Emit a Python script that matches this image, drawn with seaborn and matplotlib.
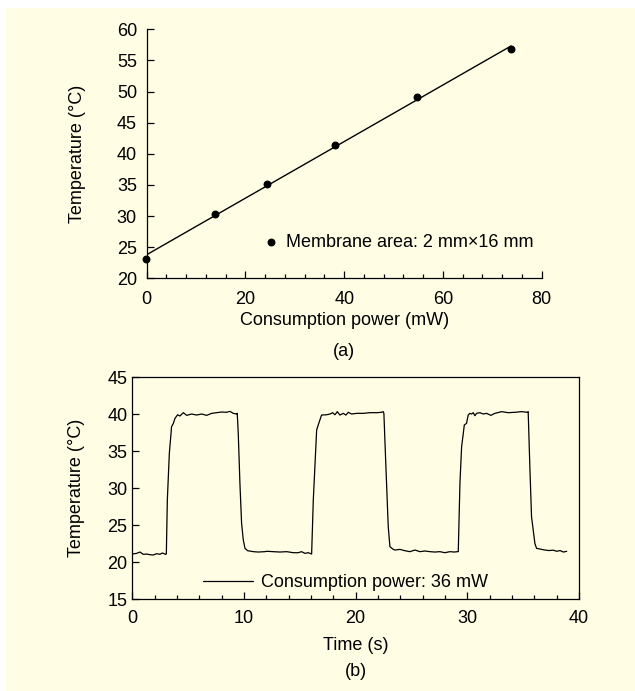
import matplotlib
matplotlib.use("Agg")
import matplotlib.pyplot as plt
from matplotlib.patches import Rectangle
from matplotlib.ticker import MultipleLocator
import pandas as pd
import seaborn as sns

# (a) temperature vs consumption power
power_mw = [-0.2, 13.9, 24.4, 38.2, 54.8, 73.8]
temp_a = [23.15, 30.33, 35.10, 41.41, 49.08, 56.79]

# (b) temperature trace vs time
time_s = [0.0, 0.39, 0.69, 0.99, 1.29, 1.58, 1.88, 2.18, 2.48, 2.69, 2.99, 3.05,
          3.14, 3.32, 3.52, 3.67, 3.82, 4.06, 4.27, 4.57, 4.87, 5.32, 5.76, 6.21,
          6.66, 7.11, 7.55, 8.0, 8.45, 8.75, 9.04, 9.34, 9.40, 9.49, 9.64, 9.79,
          9.94, 10.09, 10.33, 10.84, 11.28, 11.88, 12.03, 12.63, 13.22, 13.82,
          14.42, 14.86, 15.16, 15.46, 15.76, 16.06, 16.21, 16.51, 16.65, 16.80,
          16.95, 17.40, 17.70, 17.94, 18.15, 18.36, 18.59, 18.89, 19.13, 19.34,
          19.64, 20.09, 20.68, 21.28, 21.88, 22.32, 22.47, 22.53, 22.71, 22.92,
          23.07, 23.37, 23.52, 23.97, 24.41, 24.86, 25.31, 25.76, 26.20, 26.65,
          27.10, 27.55, 27.99, 28.44, 28.83, 29.13, 29.19, 29.34, 29.49, 29.64,
          29.73, 29.93, 30.08, 30.23, 30.38, 30.53, 30.68, 30.83, 31.13, 31.43,
          31.72, 32.11, 32.47, 33.07, 33.66, 34.26, 34.86, 35.40, 35.45, 35.60,
          35.75, 36.05, 36.20, 36.65, 36.95, 37.3, 37.7, 38.0, 38.3, 38.6, 38.9]
temp_b = [21.08, 21.17, 21.35, 21.04, 21.08, 20.99, 20.95, 21.13, 21.04, 21.22, 21.04, 21.08,
          28.4, 34.7, 38.3, 38.7, 39.4, 39.9, 39.73, 40.18, 39.82, 40.0, 39.86, 40.0,
          39.82, 40.09, 40.18, 40.27, 40.23, 40.36, 40.09, 40.0, 40.09, 37.4, 30.6, 25.2,
          23.0, 21.85, 21.53, 21.4, 21.35, 21.40, 21.45, 21.40, 21.35, 21.40,
          21.26, 21.26, 21.40, 21.17, 21.26, 21.08, 28.4, 37.84, 38.51, 39.19,
          39.86, 39.9, 40.0, 40.18, 39.9, 40.32, 39.86, 40.09, 39.86, 40.23,
          40.0, 40.09, 40.09, 40.18, 40.18, 40.23, 40.32, 40.09, 32.9, 24.77,
          22.07, 21.71, 21.62, 21.71, 21.53, 21.40, 21.62, 21.40, 21.49, 21.40,
          21.35, 21.40, 21.26, 21.40, 21.35, 21.40, 21.40, 30.63, 35.59, 37.39,
          38.51, 38.74, 39.86, 40.09, 40.0, 40.18, 39.77, 40.09, 40.18, 40.0,
          40.09, 39.82, 40.09, 40.32, 40.18, 40.23, 40.32, 40.23, 40.32, 32.88,
          26.13, 22.52, 21.85, 21.71, 21.62, 21.55, 21.6, 21.45, 21.55, 21.35, 21.45]

BG = "#FFFEE4"
FS = 13

sns.set_style("ticks")
plt.rcParams["font.family"] = ["Liberation Sans", "DejaVu Sans"]
plt.rcParams["font.size"] = FS
plt.rcParams["xtick.direction"] = "in"
plt.rcParams["ytick.direction"] = "in"
plt.rcParams["axes.edgecolor"] = "black"
plt.rcParams["axes.linewidth"] = 0.9
plt.rcParams["xtick.color"] = "black"
plt.rcParams["ytick.color"] = "black"
plt.rcParams["text.color"] = "black"
plt.rcParams["axes.labelcolor"] = "black"

fig = plt.figure(figsize=(6.35, 6.91), dpi=100, facecolor="white")
fig.patches.append(Rectangle((6 / 635, 0), 1, 1 - 8 / 691, transform=fig.transFigure,
                             facecolor=BG, edgecolor="none", zorder=-10))

# ---- panel (a) ----
ax1 = fig.add_axes([0.2310, 0.5972, 0.6221, 0.3604])
ax1.set_facecolor("none")
df_a = pd.DataFrame({"power": power_mw, "temp": temp_a})
sns.regplot(data=df_a, x="power", y="temp", ax=ax1, ci=None, color="black",
            scatter_kws={"s": 22, "alpha": 1, "clip_on": False, "zorder": 5},
            line_kws={"linewidth": 1.0}, label="Membrane area: 2 mm\u00d716 mm")
ax1.set_xlim(0, 80)
ax1.set_ylim(20, 60)
ax1.xaxis.set_major_locator(MultipleLocator(20))
ax1.xaxis.set_minor_locator(MultipleLocator(4))
ax1.yaxis.set_major_locator(MultipleLocator(5))
sns.despine(ax=ax1)
ax1.tick_params(which="major", length=5, width=0.9, pad=9, labelsize=FS)
ax1.tick_params(which="minor", length=3, width=0.9)
ax1.tick_params(axis="y", pad=7)
ax1.set_xlabel("Consumption power (mW)", fontsize=FS, labelpad=3)
ax1.set_ylabel("Temperature (\u00b0C)", fontsize=FS, labelpad=22)
ax1.legend(loc="center right", bbox_to_anchor=(0.98, 0.143), frameon=False,
           borderpad=0, borderaxespad=0, handlelength=0.5, handletextpad=0.6,
           fontsize=FS)
fig.text(0.5 * (0.2310 + 0.8531), 1 - 352 / 691, "(a)", ha="center", va="center", fontsize=FS)

# ---- panel (b) ----
ax2 = fig.add_axes([0.2083, 0.1331, 0.7035, 0.3213])
ax2.set_facecolor("none")
df_b = pd.DataFrame({"time": time_s, "temp": temp_b})
sns.lineplot(data=df_b, x="time", y="temp", ax=ax2, color="black", linewidth=0.9,
             estimator=None, label="Consumption power: 36 mW")
ax2.set_xlim(0, 40)
ax2.set_ylim(15, 45)
ax2.xaxis.set_major_locator(MultipleLocator(10))
ax2.xaxis.set_minor_locator(MultipleLocator(2))
ax2.yaxis.set_major_locator(MultipleLocator(5))
ax2.tick_params(which="major", length=5, width=0.9, pad=8, labelsize=FS)
ax2.tick_params(which="minor", length=3, width=0.9)
ax2.tick_params(axis="y", pad=3.5)
ax2.set_xlabel("Time (s)", fontsize=FS, labelpad=7)
ax2.set_ylabel("Temperature (\u00b0C)", fontsize=FS, labelpad=16)
ax2.legend(loc="center left", bbox_to_anchor=(0.159, 0.075), frameon=False,
           borderpad=0, borderaxespad=0, handlelength=2.75, handletextpad=0.45,
           fontsize=FS)
fig.text(0.5 * (0.2083 + 0.9118), 1 - 672 / 691, "(b)", ha="center", va="center", fontsize=FS)

fig.savefig("out.png", dpi=100, facecolor="white")
plt.close(fig)
